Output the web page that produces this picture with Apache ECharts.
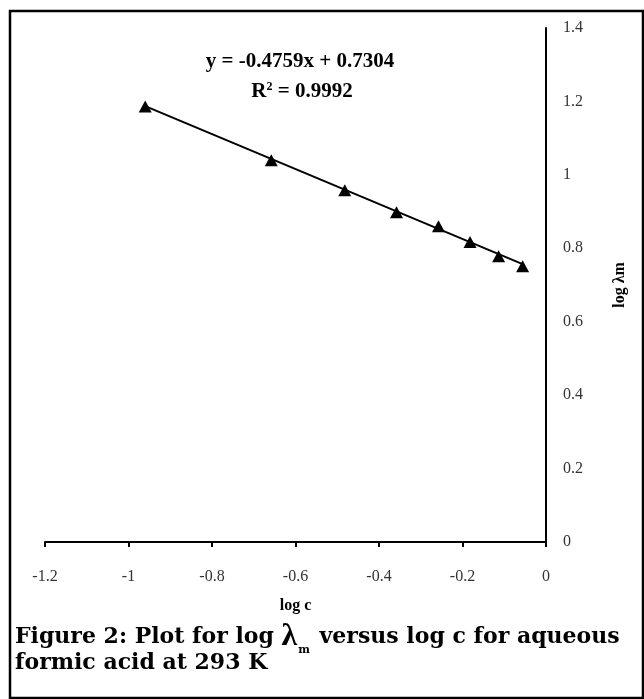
<!DOCTYPE html>
<html>
<head>
<meta charset="utf-8">
<script src="https://cdn.jsdelivr.net/npm/echarts@6/dist/echarts.min.js"></script>
<style>
    html, body { margin: 0; padding: 0; background: #fff; }
    #chart { width: 644px; height: 699px; }
</style>
</head>
<body>
<div id="chart"></div>
<script>
    // data
    const logC = [-0.960, -0.658, -0.482, -0.358, -0.2575, -0.182, -0.1135, -0.056];
    const logLambda = [1.186, 1.040, 0.958, 0.898, 0.860, 0.817, 0.778, 0.751];
    const xTicks = [-1.2, 0];
    const yTicks = [0, 1.4];
    // linear fit printed on the chart
    const slope = -0.4759;
    const intercept = 0.7304;
    const rSquared = 0.9992;

    const points = logC.map((x, i) => [x, logLambda[i]]);
    const xFirst = Math.min(...logC);
    const xLast = Math.max(...logC);
    const fitLine = [xFirst, xLast].map(x => [x, slope * x + intercept]);

    const serif = '"Liberation Serif", "Times New Roman", serif';
    const capFont = '"DejaVu Serif", "Liberation Serif", serif';

    let chart = echarts.init(document.getElementById('chart'));
    let option = {
        backgroundColor: '#fff',
        animation: false,
        grid: {
            left: 45,
            top: 28,
            width: 501,
            height: 514
        },
        xAxis: {
            type: 'value',
            min: xTicks[0],
            max: xTicks[1],
            interval: 0.2,
            name: 'log c',
            nameLocation: 'middle',
            nameGap: 56,
            nameTextStyle: { fontFamily: serif, fontWeight: 'bold', fontSize: 16, color: '#000' },
            axisLine: { onZero: false, lineStyle: { color: '#000', width: 2 } },
            axisTick: { show: true, inside: false, length: 5, lineStyle: { color: '#000', width: 2 } },
            axisLabel: { fontFamily: serif, fontSize: 16, color: '#333', margin: 27 },
            splitLine: { show: false }
        },
        yAxis: {
            type: 'value',
            position: 'right',
            min: yTicks[0],
            max: yTicks[1],
            interval: 0.2,
            name: 'log λm',
            nameLocation: 'middle',
            nameRotate: 90,
            nameGap: 66,
            nameTextStyle: { fontFamily: serif, fontWeight: 'bold', fontSize: 16, color: '#000' },
            axisLine: { show: true, onZero: false, lineStyle: { color: '#000', width: 2 } },
            axisTick: { show: false },
            axisLabel: { fontFamily: serif, fontSize: 16, color: '#333', margin: 17, padding: [6, 0, 0, 0] },
            splitLine: { show: false }
        },
        series: [
            {
                name: 'fit',
                type: 'line',
                data: fitLine,
                symbol: 'none',
                lineStyle: { color: '#000', width: 2 },
                z: 2
            },
            {
                name: 'log λm',
                type: 'scatter',
                data: points,
                symbol: 'triangle',
                symbolSize: [13, 12],
                itemStyle: { color: '#000', opacity: 1 },
                z: 3
            }
        ],
        graphic: [
            {
                type: 'rect',
                shape: { x: 10, y: 11, width: 633, height: 687 },
                style: { fill: 'none', stroke: '#000', lineWidth: 2.5 },
                silent: true
            },
            {
                type: 'text',
                x: 300,
                y: 62,
                style: {
                    text: 'y = ' + slope.toFixed(4) + 'x + ' + intercept.toFixed(4),
                    font: 'bold 21px ' + serif,
                    fill: '#000',
                    align: 'center',
                    verticalAlign: 'middle'
                }
            },
            {
                type: 'text',
                x: 302,
                y: 93,
                style: {
                    text: '{a|R}{sup|2}{a| = ' + rSquared.toFixed(4) + '}',
                    align: 'center',
                    verticalAlign: 'middle',
                    rich: {
                        a: { fontFamily: serif, fontWeight: 'bold', fontSize: 21, lineHeight: 24, verticalAlign: 'top', color: '#000' },
                        sup: { fontFamily: serif, fontWeight: 'bold', fontSize: 12, lineHeight: 8, verticalAlign: 'top', color: '#000' }
                    }
                }
            },
            {
                type: 'text',
                x: 15,
                y: 637,
                style: {
                    text: '{a|Figure 2: Plot for log }{l|λ}{s|m}{a| versus log c for aqueous}',
                    align: 'left',
                    verticalAlign: 'middle',
                    rich: {
                        a: { fontFamily: capFont, fontWeight: 'bold', fontSize: 22, lineHeight: 40, color: '#000' },
                        l: { fontFamily: serif, fontWeight: 'bold', fontSize: 32, lineHeight: 40, color: '#000' },
                        s: { fontFamily: capFont, fontWeight: 'bold', fontSize: 11, lineHeight: 12, padding: [26, 2, 0, 1], color: '#000' }
                    }
                }
            },
            {
                type: 'text',
                x: 15,
                y: 663,
                style: {
                    text: 'formic acid at 293 K',
                    font: 'bold 22px ' + capFont,
                    fill: '#000',
                    align: 'left',
                    verticalAlign: 'middle'
                }
            }
        ]
    };
    chart.setOption(option);
</script>
</body>
</html>
